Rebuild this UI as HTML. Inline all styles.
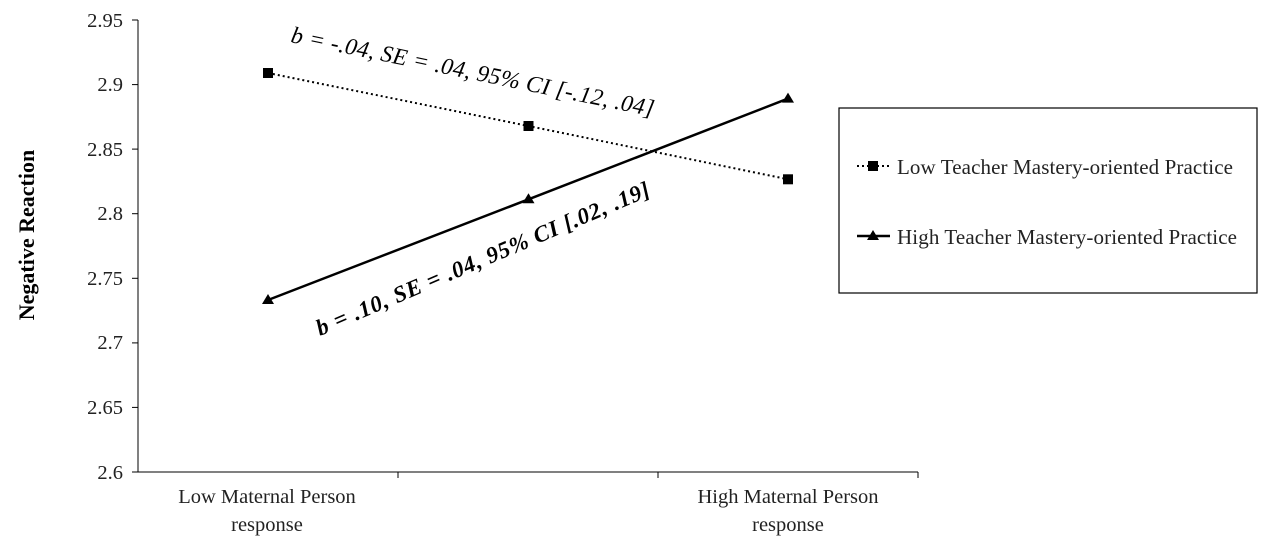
<!DOCTYPE html>
<html><head><meta charset="utf-8"><style>
html,body{margin:0;padding:0;background:#fff}
svg{display:block;font-family:"Liberation Serif",serif}
</style></head><body>
<svg width="1269" height="548" viewBox="0 0 1269 548">
<g stroke="#000" stroke-width="1">
<line x1="138" y1="20" x2="138" y2="472"/>
<line x1="138" y1="472" x2="918" y2="472"/>
<line x1="132" y1="20" x2="138" y2="20"/>
<line x1="132" y1="84.6" x2="138" y2="84.6"/>
<line x1="132" y1="149.1" x2="138" y2="149.1"/>
<line x1="132" y1="213.7" x2="138" y2="213.7"/>
<line x1="132" y1="278.3" x2="138" y2="278.3"/>
<line x1="132" y1="342.9" x2="138" y2="342.9"/>
<line x1="132" y1="407.4" x2="138" y2="407.4"/>
<line x1="132" y1="472" x2="138" y2="472"/>
<line x1="398" y1="472" x2="398" y2="478"/>
<line x1="658" y1="472" x2="658" y2="478"/>
<line x1="918" y1="472" x2="918" y2="478"/>
</g>
<g font-size="20.5" fill="#222" text-anchor="end">
<text x="123" y="27">2.95</text>
<text x="123" y="91">2.9</text>
<text x="123" y="156">2.85</text>
<text x="123" y="220">2.8</text>
<text x="123" y="285">2.75</text>
<text x="123" y="349">2.7</text>
<text x="123" y="414">2.65</text>
<text x="123" y="479">2.6</text>
</g>
<g font-size="20.5" fill="#222" text-anchor="middle">
<text x="267" y="503">Low Maternal Person</text>
<text x="267" y="531">response</text>
<text x="788" y="503">High Maternal Person</text>
<text x="788" y="531">response</text>
</g>
<text transform="translate(34,235) rotate(-90)" text-anchor="middle" font-size="22" font-weight="bold">Negative Reaction</text>
<polyline points="268,73 528.5,126 788,179.3" fill="none" stroke="#000" stroke-width="2" stroke-dasharray="2,3"/>
<polyline points="268,300 528.5,199.3 788,98.6" fill="none" stroke="#000" stroke-width="2.5"/>
<rect x="263" y="68" width="10" height="10"/>
<rect x="523.5" y="121" width="10" height="10"/>
<rect x="783" y="174.3" width="10" height="10"/>
<polygon points="268,294 274,304 262,304"/>
<polygon points="528.5,193.3 534.5,203.3 522.5,203.3"/>
<polygon points="788,92.6 794,102.6 782,102.6"/>
<text transform="translate(290,42) rotate(11.6)" font-size="23.5" font-style="italic" textLength="370" lengthAdjust="spacing">b = -.04, SE = .04, 95% CI  [-.12, .04]</text>
<text transform="translate(320,336) rotate(-23)" font-size="23" font-weight="bold" font-style="italic" textLength="360" lengthAdjust="spacing">b = .10, SE = .04, 95% CI  [.02, .19]</text>
<rect x="839" y="108" width="418" height="185" fill="none" stroke="#000" stroke-width="1.2"/>
<line x1="857" y1="166" x2="890" y2="166" stroke="#000" stroke-width="2" stroke-dasharray="2,3"/>
<rect x="868" y="161" width="10" height="10"/>
<line x1="857" y1="236" x2="890" y2="236" stroke="#000" stroke-width="2.5"/>
<polygon points="873,230 879,240 867,240"/>
<g font-size="21" fill="#222">
<text x="897" y="174" textLength="336" lengthAdjust="spacing">Low Teacher Mastery-oriented Practice</text>
<text x="897" y="244" textLength="340" lengthAdjust="spacing">High Teacher Mastery-oriented Practice</text>
</g>
</svg>
</body></html>
